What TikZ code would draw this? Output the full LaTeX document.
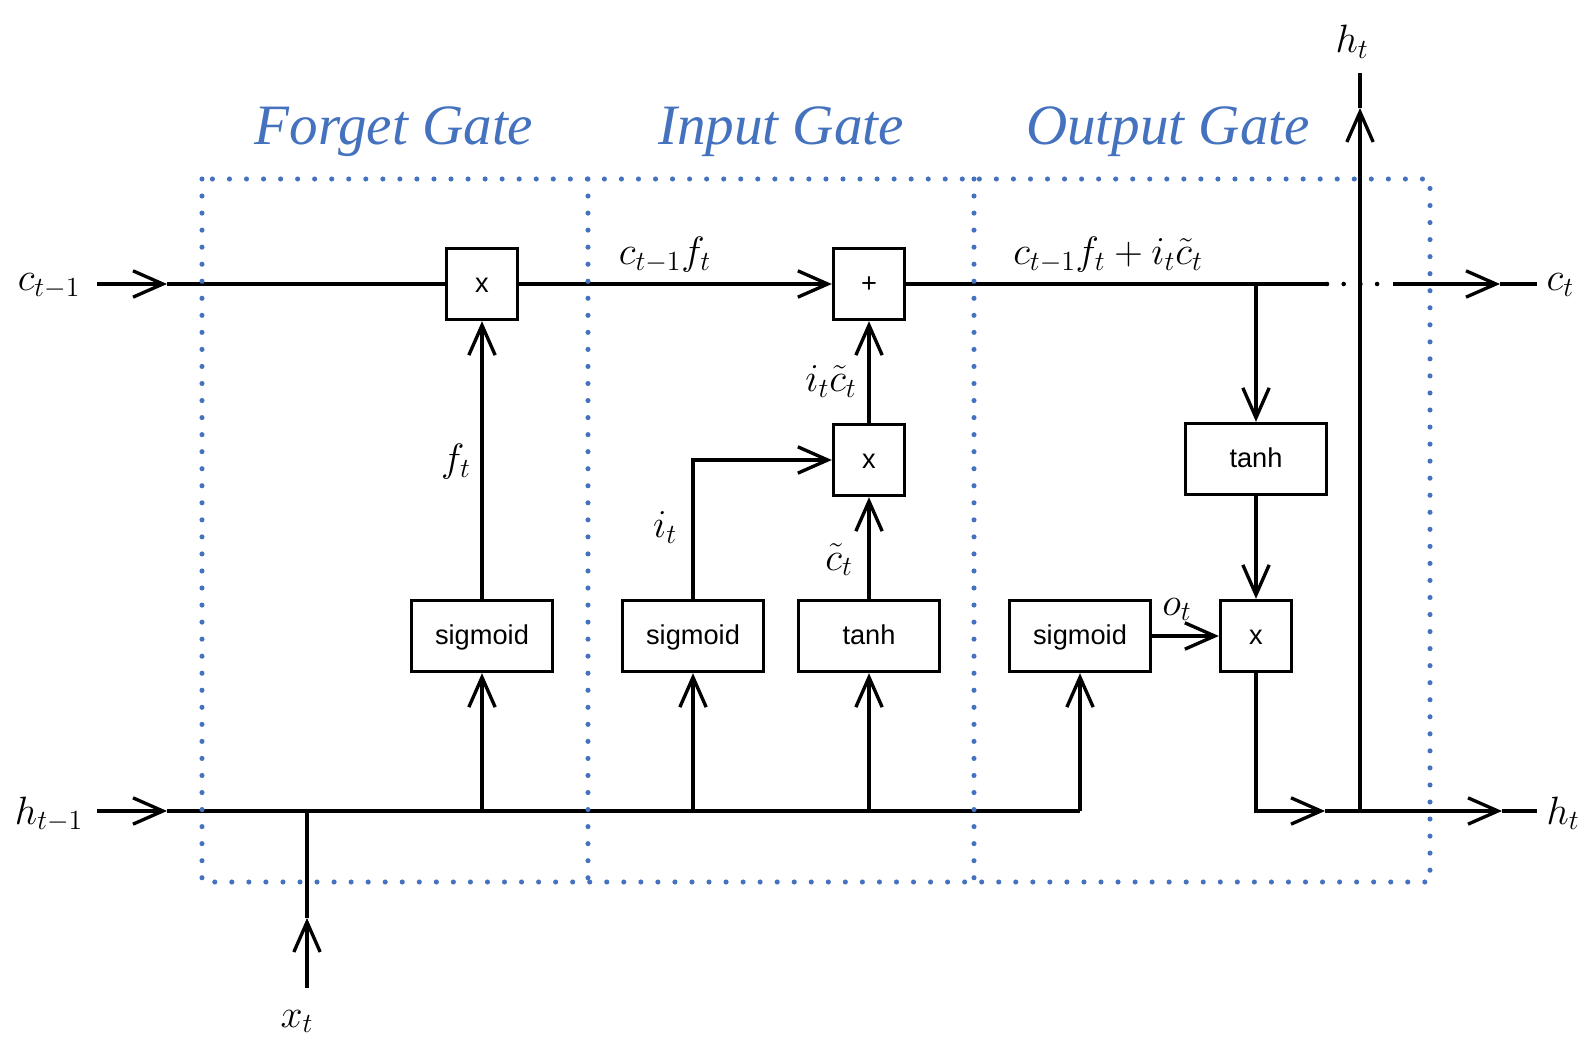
\RequirePackage{fix-cm}
\documentclass[tikz,border=0pt]{standalone}
\usepackage{fontspec}
\setsansfont{Liberation Sans}
\newfontfamily\gatefont{Liberation Serif}
\usepackage{tikz}
\usetikzlibrary{arrows.meta,positioning}
\definecolor{gateblue}{RGB}{68,114,190}
\tikzstyle{opbox}=[draw,fill=white,minimum width=1.42cm,minimum height=1.42cm,inner sep=0pt,text height=12pt,text depth=2pt,font=\sffamily\fontsize{15.5}{18}\selectfont]
\tikzstyle{actbox}=[opbox,minimum width=2.82cm]
\tikzstyle{lbl}=[inner sep=0pt,anchor=base,font=\fontsize{22.5}{26}\selectfont]
\tikzstyle{gatetitle}=[inner sep=0pt,anchor=base,text=gateblue,font=\gatefont\itshape\fontsize{32.5}{38}\selectfont]
\tikzstyle{border}=[gateblue,line width=2.9pt,dash pattern=on 0pt off 9.7pt,line cap=round]
\tikzstyle{crossdots}=[line width=2.6pt,dash pattern=on 0pt off 9.5pt,line cap=round]

\begin{document}
\begin{tikzpicture}[line width=1.9pt,x=0.02cm,y=-0.02cm,>={Straight Barb[length=17pt,width=15pt]}]
\useasboundingbox (0,0) rectangle (1592,1050);
% gate boxes
\draw (482, 284) node [opbox] (fmul) {x};
\draw (482, 636) node [actbox] (fsig) {sigmoid};
\draw (869, 284) node [opbox] (iplus) {+};
\draw (869, 460) node [opbox] (imul) {x};
\draw (693, 636) node [actbox] (isig) {sigmoid};
\draw (869, 636) node [actbox] (itanh) {tanh};
\draw (1080, 636) node [actbox] (osig) {sigmoid};
\draw (1256, 636) node [opbox] (omul) {x};
\draw (1256, 459) node [actbox] (otanh) {tanh};
% cell state line
\coordinate (cin) at (97, 284);
\coordinate (ca) at (167, 284);
\coordinate (cbr) at (1256, 284);
\coordinate (cd1) at (1327, 284);
\coordinate (cd2) at (1393, 284);
\coordinate (cb) at (1500, 284);
\coordinate (cend) at (1537, 284);
\draw[->] (cin) -- (ca);
\draw (ca) -- (fmul);
\draw[->] (fmul) -- (iplus);
\draw (iplus) -- (cbr) -- (cd1);
\draw[crossdots] (cd1) -- (cd2);
\draw[->] (cd2) -- (cb);
\draw (cb) -- (cend);
% hidden state line
\coordinate (hin) at (97, 811);
\coordinate (ha) at (167, 811);
\coordinate (hx) at (307, 811);
\coordinate (hf) at (482, 811);
\coordinate (hi) at (693, 811);
\coordinate (ht) at (869, 811);
\coordinate (ho) at (1080, 811);
\coordinate (hb) at (1325, 811);
\coordinate (hj) at (1360, 811);
\coordinate (hc) at (1502, 811);
\coordinate (hend) at (1537, 811);
\coordinate (hup) at (1360, 108);
\coordinate (htop) at (1360, 73);
\coordinate (xin) at (307, 988);
\coordinate (xa) at (307, 918);
\draw[->] (hin) -- (ha);
\draw (ha) -- (ho);
\draw[->] (xin) -- (xa);
\draw (xa) -- (hx);
\draw[->] (hf) -- (fsig);
\draw[->] (hi) -- (isig);
\draw[->] (ht) -- (itanh);
\draw[->] (ho) -- (osig);
% gate connections
\draw[->] (fsig) -- (fmul);
\draw[->] (isig) |- (imul);
\draw[->] (itanh) -- (imul);
\draw[->] (imul) -- (iplus);
\draw[->] (cbr) -- (otanh);
\draw[->] (otanh) -- (omul);
\draw[->] (osig) -- (omul);
\draw[->] (omul) |- (hb);
\draw (hb) -- (hj);
\draw[->] (hj) -- (hc);
\draw (hc) -- (hend);
\draw[->] (hj) -- (hup);
\draw (hup) -- (htop);
% labels
\draw (49, 291) node [lbl] (lcin) {$c_{t-1}$};
\draw (49, 824) node [lbl] (lhin) {$h_{t-1}$};
\draw (297, 1027) node [lbl] (lxt) {$x_t$};
\draw (1545, 291) node [lbl,anchor=base west] (lct) {$c_t$};
\draw (1545, 824) node [lbl,anchor=base west] (lht) {$h_t$};
\draw (1352, 53) node [lbl] (lhtop) {$h_t$};
\draw (456, 472) node [lbl] (lft) {$f_t$};
\draw (665, 265) node [lbl] (lcf) {$c_{t-1}f_t$};
\draw (1108, 265) node [lbl] (lcnew) {$c_{t-1}f_t+i_t\tilde{c}_t$};
\draw (831, 392) node [lbl] (lic) {$i_t\tilde{c}_t$};
\draw (665, 538) node [lbl] (lit) {$i_t$};
\draw (839, 570) node [lbl] (lctil) {$\tilde{c}_t$};
\draw (1177, 615) node [lbl] (lot) {$o_t$};
% gate regions
\draw[border] (202, 179) rectangle (1430, 882);
\draw[border] (588, 179) -- (588, 882);
\draw[border] (974, 179) -- (974, 882);
\draw (394, 145) node [gatetitle] (tforget) {Forget Gate};
\draw (781, 145) node [gatetitle] (tinput) {Input Gate};
\draw (1168, 145) node [gatetitle] (toutput) {Output Gate};
\end{tikzpicture}
\end{document}
